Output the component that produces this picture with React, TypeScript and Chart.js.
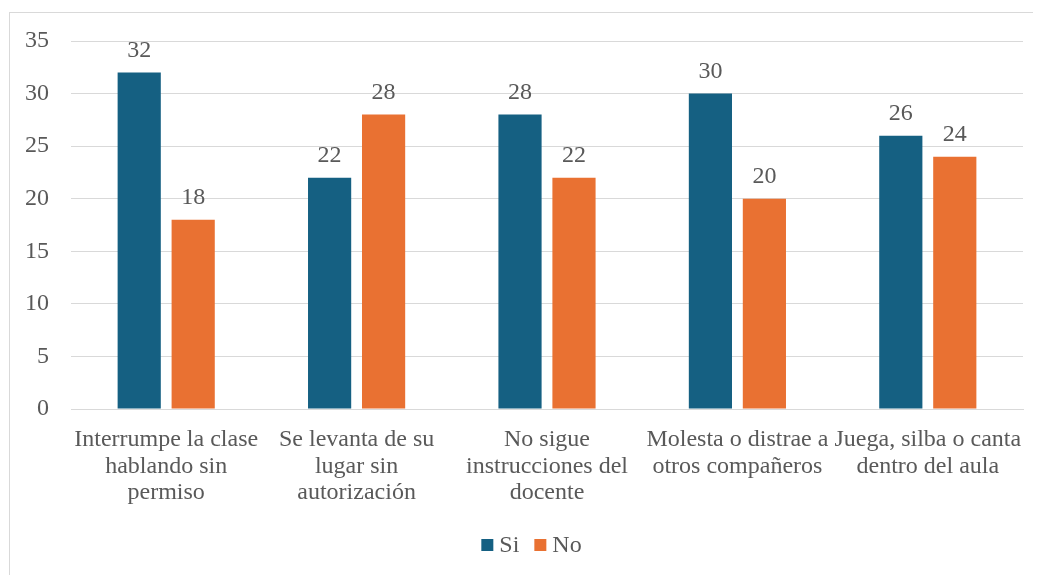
import React, { useEffect, useRef } from "react";
import { Chart, registerables } from "chart.js";

Chart.register(...registerables);

const categories: string[][] = [
  ["Interrumpe la clase", "hablando sin", "permiso"],
  ["Se levanta de su", "lugar sin", "autorización"],
  ["No sigue", "instrucciones del", "docente"],
  ["Molesta o distrae a", "otros compañeros"],
  ["Juega, silba o canta", "dentro del aula"],
];
const siValues = [32, 22, 28, 30, 26];
const noValues = [18, 28, 22, 20, 24];
const seriesNames = ["Si", "No"];
const seriesColors = ["#156082", "#E97132"];

const FONT = "'Liberation Serif', 'Times New Roman', serif";
const TEXT = "#595959";
const FS = 24;

const dataLabels = {
  id: "dataLabels",
  afterDatasetsDraw(chart: any) {
    const ctx = chart.ctx;
    ctx.save();
    ctx.font = `${FS}px ${FONT}`;
    ctx.fillStyle = TEXT;
    ctx.textAlign = "center";
    ctx.textBaseline = "bottom";
    chart.data.datasets.forEach((ds: any, i: number) => {
      const meta = chart.getDatasetMeta(i);
      meta.data.forEach((bar: any, j: number) => {
        ctx.fillText(String(ds.data[j]), bar.x, bar.y - 10);
      });
    });
    ctx.restore();
  },
};

const bottomLegend = {
  id: "bottomLegend",
  afterDraw(chart: any) {
    const ctx = chart.ctx;
    ctx.save();
    ctx.font = `${FS}px ${FONT}`;
    const box = 12;
    const gapText = 6;
    const gapItem = 15;
    const items = chart.data.datasets.map((ds: any) => ({
      label: ds.label,
      color: ds.backgroundColor,
      w: ctx.measureText(ds.label).width,
    }));
    const total =
      items.reduce((s: number, it: any) => s + box + gapText + it.w, 0) +
      gapItem * (items.length - 1);
    let x = chart.width / 2 - total / 2 + 6;
    const cy = chart.height - 30;
    ctx.textBaseline = "middle";
    ctx.textAlign = "left";
    items.forEach((it: any) => {
      ctx.fillStyle = it.color;
      ctx.fillRect(x, cy - box / 2, box, box);
      x += box + gapText;
      ctx.fillStyle = TEXT;
      ctx.fillText(it.label, x, cy + 1);
      x += it.w + gapItem;
    });
    ctx.restore();
  },
};

export default function App() {
  const ref = useRef<HTMLCanvasElement>(null);
  useEffect(() => {
    if (!ref.current) return;
    const chart = new Chart(ref.current, {
      type: "bar",
      data: {
        labels: categories,
        datasets: [
          { label: seriesNames[0], data: siValues, backgroundColor: seriesColors[0] },
          { label: seriesNames[1], data: noValues, backgroundColor: seriesColors[1] },
        ],
      },
      plugins: [dataLabels, bottomLegend],
      options: {
        animation: false,
        responsive: false,
        maintainAspectRatio: false,
        layout: { padding: { left: 0, right: 18, top: 28, bottom: 57 } },
        datasets: { bar: { categoryPercentage: 0.567, barPercentage: 0.8 } },
        plugins: {
          tooltip: { enabled: false },
          legend: { display: false },
        },
        scales: {
          x: {
            grid: { display: false, drawTicks: false },
            border: { display: true, color: "#d9d9d9" },
            ticks: {
              color: TEXT,
              font: { family: FONT, size: FS, lineHeight: 1.1 },
              padding: 18,
              maxRotation: 0,
              autoSkip: false,
            },
            afterFit(scale: any) {
              scale.height = 109;
            },
          },
          y: {
            min: 0,
            max: 35,
            ticks: {
              stepSize: 5,
              color: TEXT,
              font: { family: FONT, size: FS },
              padding: 0,
            },
            grid: {
              color: "#d9d9d9",
              drawTicks: true,
              tickLength: 22,
              tickColor: "rgba(0,0,0,0)",
            },
            border: { display: false },
            afterFit(scale: any) {
              scale.width = 61;
            },
          },
        },
      },
    } as any);
    return () => chart.destroy();
  }, []);
  return (
    <div
      style={{
        marginLeft: 1,
        marginTop: 4,
        width: 1031,
        height: 570,
        borderTop: "1px solid #d9d9d9",
        borderLeft: "1px solid #d9d9d9",
        background: "#fff",
      }}
    >
      <canvas ref={ref} width={1031} height={562} style={{ display: "block" }} />
    </div>
  );
}
